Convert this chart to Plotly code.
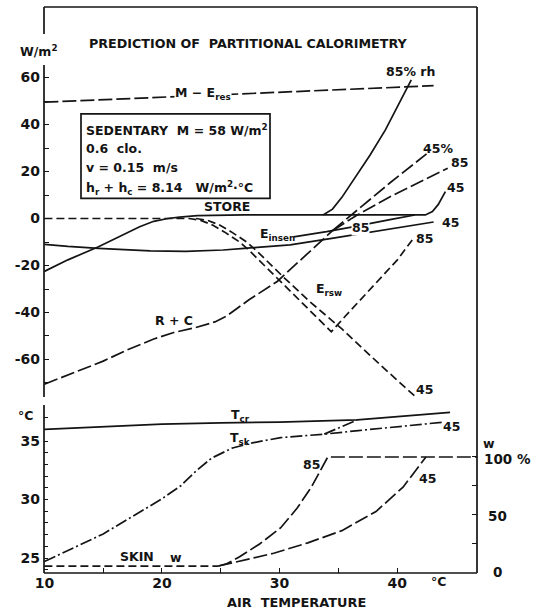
import plotly.graph_objects as go

# ---------------- data (air temperature in deg C) ----------------
# upper panel: heat exchange terms, W/m2
me_res_t = [10, 43.1]
me_res = [49.5, 56.5]

store_t = [10, 12, 14.6, 18.1, 19.3, 20.5, 21.5, 23, 27, 33.7]
store = [-22.5, -17.6, -12.0, -3.5, -1.2, 0.0, 0.6, 1.2, 1.5, 1.5]
store85_t = [33.7, 34.5, 35.3, 36.3, 37.7, 39.0, 41.2]
store85 = [1.5, 4.0, 9.0, 16.4, 27.0, 37.7, 59.0]
store45_t = [33.7, 42.4, 43.0, 43.5, 44.1]
store45 = [1.5, 1.5, 3.0, 6.0, 11.4]

insen45_t = [10, 12, 14.6, 17, 19, 22, 25.2, 27, 29, 30.9, 34.3, 38, 41, 43.1]
insen45 = [-11.0, -11.9, -12.7, -13.4, -13.8, -14.0, -13.4, -12.7, -12.0, -11.2, -8.6, -5.7, -3.2, -1.5]
insen85_t = [31.2, 32.2, 34.0, 36.0, 37.8, 39.5, 41.5]
insen85 = [-7.8, -7.1, -5.6, -3.8, -2.2, -0.4, 1.5]

rsw85_t = [10, 22.3, 23.3, 24.3, 25.3, 26.6, 27.5, 29.7, 32.0, 34.4, 35.6, 37.0, 38.5, 40.0, 41.3]
rsw85 = [0, 0, -0.8, -2.8, -5.7, -10.0, -14.0, -24.8, -36.5, -48.2, -41.5, -34.0, -26.2, -17.7, -9.0]
rsw45_t = [22.9, 23.9, 24.9, 25.9, 27.2, 28.1, 30.3, 32.6, 35.3, 38.5, 41.7]
rsw45 = [0, -0.8, -2.8, -5.7, -10.0, -14.0, -24.8, -35.5, -47.0, -62.0, -76.5]

rc_t = [10, 12.5, 15, 17, 19.3, 21, 22.8, 24.5, 25.5, 27.4, 29.8, 31.6, 33.8, 34.5]
rc = [-70.5, -65.5, -60.7, -56.0, -51.3, -48.5, -46.5, -44.0, -41.5, -34.6, -26.8, -18.5, -8.3, -5.2]
rc45_t = [34.5, 36.6, 39.4, 42.5]
rc45 = [-5.2, 3.5, 15.2, 27.5]
rc85_t = [34.5, 36.5, 39.4, 44.3]
rc85 = [-5.2, 1.2, 9.3, 21.4]

# lower panel: body temperatures (deg C) and skin wettedness (%)
tcr_t = [10, 20, 25, 30, 36.6, 44.5]
tcr = [36.0, 36.45, 36.55, 36.62, 36.8, 37.45]
tsk_t = [10, 15, 19.9, 21.6, 22.8, 24.2, 26, 27.7, 30.1, 33.8, 36.7, 44]
tsk = [24.7, 27.06, 30.0, 31.18, 32.35, 33.53, 34.41, 34.85, 35.29, 35.59, 35.89, 36.62]
tsk85_t = [33.8, 36.6]
tsk85 = [35.59, 36.8]

w_t = [10, 24.8]
w = [6, 6]
w85_t = [24.8, 25.5, 26.6, 28.3, 30.1, 31.5, 32.7, 33.55, 34.1, 46.8]
w85 = [6, 8, 14, 25, 39, 56, 74, 90, 100, 100]
w45_t = [24.8, 26.6, 29.5, 32.4, 35.3, 38.2, 40.5, 42.45]
w45 = [6, 10, 17, 26, 36.5, 53, 74, 100]

# ---------------- styling ----------------
INK = "#141414"
FONT = "DejaVu Sans"
LW = 1.7
SOLID = "solid"
LONG = "14px,4px"
SHORT = "8px,4px"
DASHDOT = "12px,3px,2px,3px"

W, H = 536, 610
ML, MR, MT, MB = 44, 59, 7, 37
PW, PH = W - ML - MR, H - MT - MB


def px_x(p):
    return (p - ML) / PW


def px_y(p):
    return (H - MB - p) / PH


fig = go.Figure()


def add(x, y, dash, yaxis="y"):
    fig.add_trace(go.Scatter(x=x, y=y, mode="lines", yaxis=yaxis, xaxis="x",
                             line=dict(color=INK, width=LW, dash=dash),
                             hoverinfo="skip", showlegend=False))


add(me_res_t, me_res, LONG)
add(store_t, store, SOLID)
add(store85_t, store85, SOLID)
add(store45_t, store45, SOLID)
add(insen45_t, insen45, SOLID)
add(insen85_t, insen85, SOLID)
add(rsw85_t, rsw85, SHORT)
add(rsw45_t, rsw45, SHORT)
add(rc_t, rc, LONG)
add(rc45_t, rc45, LONG)
add(rc85_t, rc85, LONG)

add(tcr_t, tcr, SOLID, "y2")
add(tsk_t, tsk, DASHDOT, "y2")
add(tsk85_t, tsk85, DASHDOT, "y2")
add(w_t, w, SHORT, "y3")
add(w85_t, w85, LONG, "y3")
add(w45_t, w45, LONG, "y3")

# ---------------- axes ----------------
top_lo = px_y(397)
bot_hi = px_y(405)
tickfont = dict(family=FONT, size=14, color=INK, weight="bold")

top_vals = list(range(-70, 61, 10))
top_text = [str(v) if v % 20 == 0 else "" for v in top_vals]

fig.update_layout(
    width=W, height=H,
    margin=dict(l=ML, r=MR, t=MT, b=MB),
    paper_bgcolor="white", plot_bgcolor="white",
    showlegend=False,
    xaxis=dict(range=[9.966, 46.79], anchor="y2", showgrid=False, zeroline=False,
               showline=False, ticks="inside", ticklen=5, tickwidth=1.4, tickcolor=INK,
               tickvals=[10, 15, 20, 25, 30, 35, 40],
               ticktext=["10", "", "20", "", "30", "", "40"],
               tickfont=tickfont),
    yaxis=dict(domain=[top_lo, 1.0], range=[-75.96, 90.0], anchor="x",
               showgrid=False, zeroline=False, showline=False,
               ticks="inside", ticklen=5, tickwidth=1.4, tickcolor=INK,
               tickvals=top_vals, ticktext=top_text, tickfont=tickfont,
               ticklabelstandoff=3),
    yaxis4=dict(overlaying="y", side="right", range=[-75.96, 90.0], anchor="x",
                showgrid=False, zeroline=False, showline=False,
                ticks="inside", ticklen=5, tickwidth=1.4, tickcolor=INK,
                tickvals=[-60, -40, -20, 0, 20, 40, 60], showticklabels=False),
    yaxis2=dict(domain=[0, bot_hi], range=[23.72, 38.08], anchor="x",
                showgrid=False, zeroline=False, showline=False,
                ticks="inside", ticklen=4, tickwidth=1.3, tickcolor=INK,
                tickvals=list(range(24, 39)),
                ticktext=[str(v) if v % 5 == 0 else "" for v in range(24, 39)],
                tickfont=tickfont, ticklabelstandoff=3),
    yaxis3=dict(overlaying="y2", side="right", range=[0, 144.8], anchor="x",
                showgrid=False, zeroline=False, showline=False,
                ticks="inside", ticklen=5, tickwidth=1.4, tickcolor=INK,
                tickvals=[25, 50, 75, 100], showticklabels=False),
)

# frame lines
line = dict(color=INK, width=1.7)
shapes = [
    dict(x0=0, x1=1, y0=1, y1=1),                          # top
    dict(x0=1, x1=1, y0=0, y1=1),                          # right
    dict(x0=0, x1=1, y0=0, y1=0),                          # bottom
    dict(x0=0, x1=0, y0=px_y(34), y1=1),                   # left, above unit label
    dict(x0=0, x1=0, y0=top_lo, y1=px_y(65)),              # left, upper panel
    dict(x0=0, x1=0, y0=0, y1=bot_hi),                     # left, lower panel
]
for s in shapes:
    fig.add_shape(type="line", xref="paper", yref="paper", line=line, **s)

# condition box
fig.add_shape(type="rect", xref="paper", yref="paper",
              x0=px_x(81), x1=px_x(270), y0=px_y(198.3), y1=px_y(113.8),
              line=dict(color=INK, width=1.7))

# ---------------- text ----------------
def note(text, x, y, xref="x", yref="y", size=12.5, xanchor="center", bg=None, **kw):
    d = dict(text=text, x=x, y=y, xref=xref, yref=yref, showarrow=False,
             xanchor=xanchor, yanchor="middle",
             font=dict(family=FONT, size=size, color=INK, weight="bold"))
    if bg:
        d["bgcolor"] = bg
    d.update(kw)
    fig.add_annotation(**d)


NB = "\u00a0"
note("PREDICTION" + NB + "OF" + NB * 2 + "PARTITIONAL" + NB + "CALORIMETRY",
     px_x(248), px_y(43), "paper", "paper", size=12.7)
note("W/m<sup>2</sup>", px_x(38), px_y(51), "paper", "paper", size=12.5)

box_x = px_x(84)
note("SEDENTARY" + NB * 2 + "M" + NB + "=" + NB + "58" + NB + "W/m<sup>2</sup>",
     box_x, px_y(129.5), "paper", "paper", size=12.5, xanchor="left")
note("0.6" + NB * 2 + "clo.", box_x, px_y(148), "paper", "paper", size=12.5, xanchor="left")
note("v" + NB + "=" + NB + "0.15" + NB * 2 + "m/s", box_x, px_y(167), "paper", "paper",
     size=12.5, xanchor="left")
note("h<sub>r</sub>" + NB + "+" + NB + "h<sub>c</sub>" + NB + "=" + NB + "8.14" + NB * 3
     + "W/m<sup>2</sup>·°C", box_x, px_y(188), "paper", "paper", size=12.5, xanchor="left")

# curve labels, upper panel
note("M − E<sub>res</sub>", 23.5, 53.4, bg="white", borderpad=0)
note("85% rh", 41.1, 62.5)
note("STORE", 25.5, 4.9)
note("E<sub>insen</sub>", 29.8, -7.0)
note("E<sub>rsw</sub>", 34.2, -30.4)
note("R + C", 21.0, -43.2)
note("85", 36.9, -3.8, bg="white", borderpad=0)
note("45", 44.5, -1.5)
note("85", 42.3, -8.3)
note("45", 42.3, -72.6)
note("45%", 43.5, 30.0)
note("85", 45.3, 24.0)
note("45", 45.0, 13.4)

# lower panel labels
note("T<sub>cr</sub>", 26.7, 37.15, yref="y2")
note("T<sub>sk</sub>", 26.6, 35.2, yref="y2")
note("45", 44.6, 36.2, yref="y2")
note("85", 32.75, 93.5, yref="y3")
note("45", 42.6, 81.5, yref="y3")
note("SKIN", 17.9, 14.5, yref="y3")
note("w", 21.2, 13.5, yref="y3")

# axis annotations
note("°C", px_x(25), px_y(415), "paper", "paper", size=12.5)
note("°C", 43.55, px_y(582), "x", "paper", size=12.5)
note("AIR" + NB * 2 + "TEMPERATURE", px_x(296), px_y(602), "paper", "paper", size=12.9)
note("w", px_x(489), px_y(443), "paper", "paper", size=12.5)
note("100" + NB + "%", px_x(482), px_y(459), "paper", "paper", size=13.5, xanchor="left")
note("50", px_x(497), px_y(516), "paper", "paper", size=13.5)
note("0", px_x(497), px_y(572), "paper", "paper", size=13.5)

fig.write_html("out.html")
